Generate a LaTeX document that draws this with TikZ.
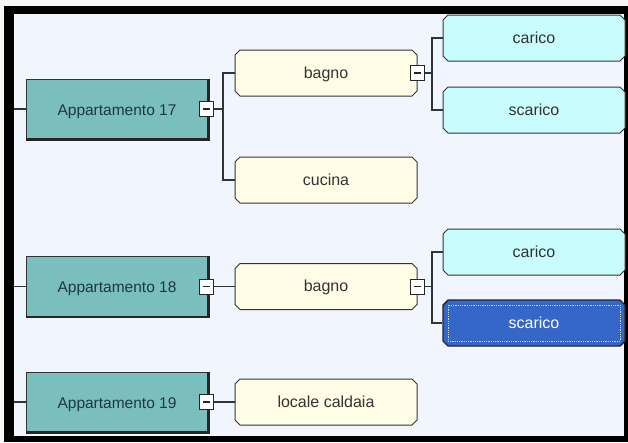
\documentclass[tikz,border=0pt]{standalone}
\usepackage{fontspec}
\setmainfont{Liberation Sans}
\usetikzlibrary{shapes.misc}
\definecolor{paper}{RGB}{241,245,253}
\definecolor{appteal}{RGB}{122,190,190}
\definecolor{apptext}{RGB}{28,56,66}
\definecolor{roomyellow}{RGB}{255,253,229}
\definecolor{fixcyan}{RGB}{201,252,253}
\definecolor{pickblue}{RGB}{53,103,200}
\begin{document}
\begin{tikzpicture}[x=1pt, y=-1pt,
    every node/.style={font=\fontsize{16}{19}\selectfont, text height=10pt, text depth=0pt},
    app/.style={draw=black!80, line width=1pt, fill=appteal, text=apptext, font=\fontsize{15.5}{19}\selectfont,
        text height=12pt, minimum width=182pt, minimum height=60pt, inner sep=0pt},
    room/.style={chamfered rectangle, chamfered rectangle xsep=2.5pt, chamfered rectangle ysep=2.5pt,
        draw=black!80, line width=1pt, fill=roomyellow, text=black!80, minimum width=182pt, minimum height=46pt, inner sep=0pt},
    fixture/.style={room, fill=fixcyan},
    picked/.style={room, fill=pickblue, text=white, draw=black!85, line width=1.4pt},
    toggle/.style={draw=black!85, line width=1pt, fill=white, minimum width=14pt, minimum height=15pt, inner sep=0pt,
        text height=0pt, path picture={\draw[line width=1.3pt] ([xshift=3.5pt]path picture bounding box.west) -- ([xshift=-3.5pt]path picture bounding box.east);}},
    link/.style={draw=black!80, line width=1.1pt}
  ]
  \useasboundingbox (0,0) rectangle (628,442);
  % window frame
  \fill[white!97!black] (0,0) rectangle (628,442);
  \fill[black] (4,6) rectangle (628,442);
  \fill[paper] (14,14) rectangle (624,436);
  \coordinate (edge) at (14,0);

  % apartments
  \node[app] (a17) at (117,109) {Appartamento 17\hspace{4pt}};
  \node[app] (a18) at (117,286.5) {Appartamento 18\hspace{4pt}};
  \node[app] (a19) at (117,402) {Appartamento 19\hspace{4pt}};
  \foreach \n in {a17,a18,a19}
    \draw[line width=2.4pt, black!85] (\n.north east) -- (\n.south east) -- (\n.south west);

  % rooms
  \node[room] (b17) at (326,73) {bagno};
  \node[room] (c17) at (326,180) {cucina};
  \node[room] (b18) at (326,286.5) {bagno};
  \node[room] (l19) at (326,402) {locale caldaia};

  % fixtures
  \node[fixture] (car17) at (534,38) {carico};
  \node[fixture] (sca17) at (534,110) {scarico};
  \node[fixture] (car18) at (534,252) {carico};
  \node[picked] (sca18) at (534,323) {scarico};
  \draw[densely dotted, line width=0.8pt, white!70!pickblue]
    ([shift={(3pt,-3pt)}]sca18.north west) rectangle ([shift={(-3pt,3pt)}]sca18.south east);

  % toggles
  \node[toggle] (t17) at ([xshift=-2pt]a17.east) {};
  \node[toggle] (t18) at ([xshift=-2pt]a18.east) {};
  \node[toggle] (t19) at ([xshift=-2pt]a19.east) {};
  \node[toggle] (tb17) at (b17.east) {};
  \node[toggle] (tb18) at (b18.east) {};

  % connectors
  \draw[link] (edge |- a17.west) -- (a17.west);
  \draw[link] (edge |- a18.west) -- (a18.west);
  \draw[link] (edge |- a19.west) -- (a19.west);
  \draw[link] (t17.east) -- ++(9,0) |- (b17.west);
  \draw[link] (t17.east) -- ++(9,0) |- (c17.west);
  \draw[link] (t18.east) -- (b18.west);
  \draw[link] (t19.east) -- (l19.west);
  \draw[link] (tb17.east) -- ++(7,0) |- (car17.west);
  \draw[link] (tb17.east) -- ++(7,0) |- (sca17.west);
  \draw[link] (tb18.east) -- ++(7,0) |- (car18.west);
  \draw[link] (tb18.east) -- ++(7,0) |- (sca18.west);
\end{tikzpicture}
\end{document}
